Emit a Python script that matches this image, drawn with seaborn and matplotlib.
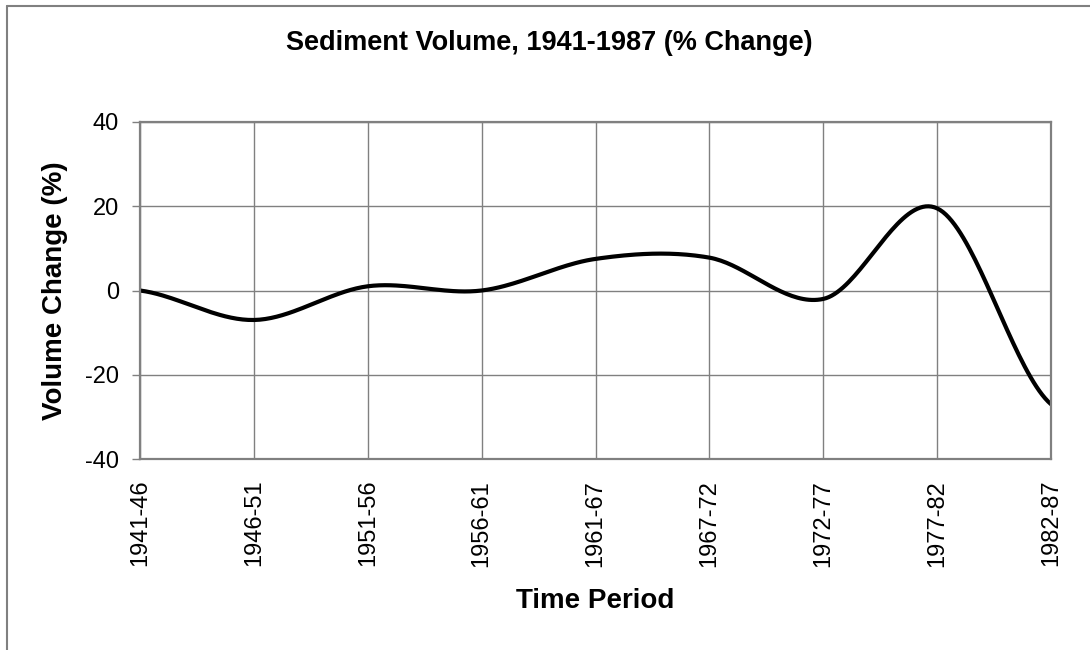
import numpy as np
import pandas as pd
import matplotlib
matplotlib.use("Agg")
import matplotlib.pyplot as plt
from matplotlib.lines import Line2D
import seaborn as sns

# ---- data ----
periods = ["1941-46", "1946-51", "1951-56", "1956-61", "1961-67",
           "1967-72", "1972-77", "1977-82", "1982-87"]
volume_change = [0, -7, 1, 0, 7.5, 7.8, -2, 19.5, -27]
y_ticks = [-40, -20, 0, 20, 40]

title = "Sediment Volume, 1941-1987 (% Change)"
x_title = "Time Period"
y_title = "Volume Change (%)"


def smooth_curve(vals, steps=40):
    """Catmull-Rom rendering of the category series (like a spreadsheet 'smoothed line')."""
    p = np.asarray(vals, dtype=float)
    n = len(p)
    xs, ys = [], []
    for i in range(n - 1):
        p0 = p[i - 1] if i > 0 else p[i]
        p1, p2 = p[i], p[i + 1]
        p3 = p[i + 2] if i + 2 < n else p[i + 1]
        m1 = (p2 - p0) / 2.0
        m2 = (p3 - p1) / 2.0
        t = np.linspace(0, 1, steps, endpoint=(i == n - 2))
        h00 = 2 * t**3 - 3 * t**2 + 1
        h10 = t**3 - 2 * t**2 + t
        h01 = -2 * t**3 + 3 * t**2
        h11 = t**3 - t**2
        ys.append(h00 * p1 + h10 * m1 + h01 * p2 + h11 * m2)
        xs.append(i + t)
    return np.concatenate(xs), np.concatenate(ys)


sns.set_theme(style="white")
plt.rcParams["font.family"] = ["Liberation Sans", "DejaVu Sans"]
plt.rcParams["text.color"] = "black"
plt.rcParams["axes.labelcolor"] = "black"
plt.rcParams["xtick.color"] = "black"
plt.rcParams["ytick.color"] = "black"

fig = plt.figure(figsize=(10.9, 6.5), dpi=100)
ax = fig.add_axes([140 / 1090, 1 - 459 / 650, (1051 - 140) / 1090, (459 - 122) / 650])

sx, sy = smooth_curve(volume_change)
df = pd.DataFrame({"pos": sx, "val": sy})
sns.lineplot(data=df, x="pos", y="val", ax=ax, color="black", linewidth=3.0,
             sort=False, estimator=None)

ax.set_xlim(0, len(periods) - 1)
ax.set_ylim(y_ticks[0], y_ticks[-1])
ax.set_xticks(range(len(periods)))
ax.set_xticklabels(periods, rotation=90, fontsize=17, va="top", color="black")
ax.set_yticks(y_ticks)
ax.set_yticklabels([str(v) for v in y_ticks], fontsize=17, color="black")

ax.grid(True, color="#808080", linewidth=1.0)
ax.set_axisbelow(True)
for s in ax.spines.values():
    s.set_color("#808080")
    s.set_linewidth(1.6)
    s.set_visible(True)

ax.tick_params(axis="x", length=0, pad=15, labelcolor="black")
ax.tick_params(axis="y", length=6, width=1.0, color="#808080", pad=9, left=True,
               labelcolor="black")

ax.set_xlabel(x_title, fontsize=20, fontweight="bold", color="black")
ax.xaxis.set_label_coords(0.5, (459 - 588) / 337)
ax.xaxis.label.set_va("top")
ax.set_ylabel(y_title, fontsize=20, fontweight="bold", color="black")
ax.yaxis.set_label_coords((55 - 140) / 911, 0.5)
ax.yaxis.label.set_va("center")

fig.text(549 / 1090, 1 - 43 / 650, title, ha="center", va="center",
         fontsize=19.5, fontweight="bold", color="black")

# chart-area border (top and left edges visible)
fig.add_artist(Line2D([7 / 1090, 1.0], [1 - 6 / 650, 1 - 6 / 650],
                      transform=fig.transFigure, color="#808080", linewidth=1.5))
fig.add_artist(Line2D([7 / 1090, 7 / 1090], [0, 1 - 6 / 650],
                      transform=fig.transFigure, color="#808080", linewidth=1.5))

fig.savefig("out.png", dpi=100, facecolor="white")
